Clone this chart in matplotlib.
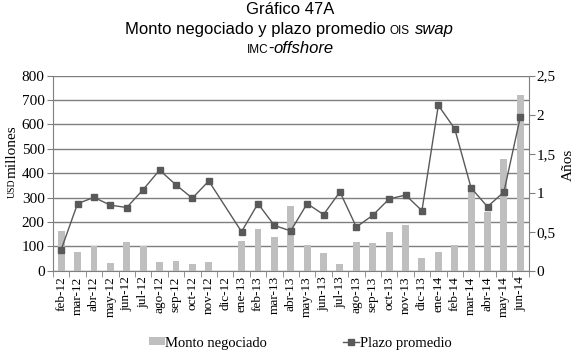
import numpy as np
import matplotlib
matplotlib.use("Agg")
import matplotlib.pyplot as plt
from matplotlib.ticker import FixedLocator

months = ['feb-12', 'mar-12', 'abr-12', 'may-12', 'jun-12', 'jul-12', 'ago-12', 'sep-12',
          'oct-12', 'nov-12', 'dic-12', 'ene-13', 'feb-13', 'mar-13', 'abr-13', 'may-13',
          'jun-13', 'jul-13', 'ago-13', 'sep-13', 'oct-13', 'nov-13', 'dic-13', 'ene-14',
          'feb-14', 'mar-14', 'abr-14', 'may-14', 'jun-14']
monto = [162, 78, 101, 33, 116, 103, 37, 40, 27, 37, 0,
         122, 171, 137, 265, 105, 71, 29, 119, 112, 157, 186, 52,
         75, 104, 335, 239, 457, 721]
plazo = [0.27, 0.86, 0.94, 0.84, 0.81, 1.04, 1.29, 1.10, 0.93, 1.15, np.nan,
         0.50, 0.86, 0.58, 0.51, 0.86, 0.72, 1.01, 0.56, 0.71, 0.92, 0.97, 0.77,
         2.12, 1.82, 1.06, 0.82, 1.01, 1.97]
left_ticks = [0, 100, 200, 300, 400, 500, 600, 700, 800]
right_ticks = [0, 0.5, 1, 1.5, 2, 2.5]
right_labels = ['0', '0,5', '1', '1,5', '2', '2,5']

serif = ['Liberation Serif', 'DejaVu Serif']
sans = ['Liberation Sans', 'DejaVu Sans']
plt.rcParams['font.family'] = serif

GRID = '#7f7f7f'
BAR = '#bfbfbf'
LINE = '#595959'

W, H = 579, 356
fig = plt.figure(figsize=(W / 100, H / 100), dpi=100)
ax = fig.add_axes([0.0915, 0.2396, 0.9128 - 0.0915, 0.7874 - 0.2396])
x = np.arange(len(months))
ax.bar(x, monto, width=0.42, color=BAR, zorder=2, label='Monto negociado')
ax.set_xlim(-0.5, len(months) - 0.5)
ax.set_ylim(0, 800)
ax.yaxis.set_major_locator(FixedLocator(left_ticks))
ax.set_yticklabels([str(v) for v in left_ticks])
ax.grid(axis='y', color=GRID, lw=1.0, zorder=0)
ax.set_axisbelow(True)
ax.set_xticks(x)
ax.set_xticklabels(months, rotation=90, fontsize=9.5)
ax.tick_params(axis='x', which='major', length=0, pad=4)
ax.xaxis.set_minor_locator(FixedLocator(np.arange(-0.5, len(months), 1.0)))
ax.tick_params(axis='x', which='minor', length=4, color=GRID, direction='out')
ax.tick_params(axis='y', length=4, color=GRID, labelsize=11, pad=2)
ax.spines['top'].set_visible(False)
ax.spines['right'].set_visible(False)
ax.spines['left'].set_color(GRID)
ax.spines['bottom'].set_color(GRID)

ax2 = ax.twinx()
xm = x[~np.isnan(plazo)]
pm = np.array(plazo)[~np.isnan(plazo)]
ax2.plot(xm, pm, color=LINE, lw=1.0, marker='s', ms=4.5, mfc=LINE, mec=LINE,
         zorder=3, label='Plazo promedio')
ax2.set_ylim(0, 2.5)
ax2.yaxis.set_major_locator(FixedLocator(right_ticks))
ax2.set_yticklabels(right_labels)
ax2.tick_params(axis='y', length=4, color=GRID, labelsize=11, pad=2)
ax2.spines['top'].set_visible(False)
ax2.spines['left'].set_visible(False)
ax2.spines['bottom'].set_visible(False)
ax2.spines['right'].set_color(GRID)

# Axis labels
fig.text(568 / W, 1 - 165 / H, 'Años', rotation=90, ha='center', va='center', fontsize=11)
fig.text(12 / W, 1 - 198 / H, 'USD', rotation=90, ha='center', va='bottom', fontsize=7)
fig.text(12 / W, 1 - 178 / H, 'millones', rotation=90, ha='center', va='bottom', fontsize=11)

# Title
fig.text(290 / W, 1 - 10 / H, 'Gráfico 47A', ha='center', va='center', family=sans, fontsize=12)

renderer = fig.canvas.get_renderer()

def line_of_parts(parts, xc, ybase):
    texts = []
    for t, fs, st in parts:
        texts.append(fig.text(0, 1 - ybase / H, t, ha='left', va='baseline',
                              family=sans, fontsize=fs, style=st))
    widths = [tx.get_window_extent(renderer).width for tx in texts]
    total = sum(widths)
    xpos = xc - total / 2
    for tx, w in zip(texts, widths):
        tx.set_x(xpos / W)
        xpos += w

line_of_parts([('Monto negociado y plazo promedio', 12, 'normal'), (' ', 12, 'normal'),
               ('OIS', 8.5, 'normal'), (' ', 12, 'normal'), ('swap', 12, 'italic')],
              289, 34)
line_of_parts([('IMC', 8.5, 'normal'), ('-', 12, 'normal'), ('offshore', 12, 'italic')],
              290, 53)

h1, l1 = ax.get_legend_handles_labels()
h2, l2 = ax2.get_legend_handles_labels()
fig.legend(h1 + h2, l1 + l2, loc='center', bbox_to_anchor=(300 / W, 1 - 343 / H),
           ncol=2, frameon=False, fontsize=10.5, handlelength=1.1, handleheight=0.5,
           handletextpad=0.05, columnspacing=5.2, borderpad=0)

fig.savefig('out.png', dpi=100)
